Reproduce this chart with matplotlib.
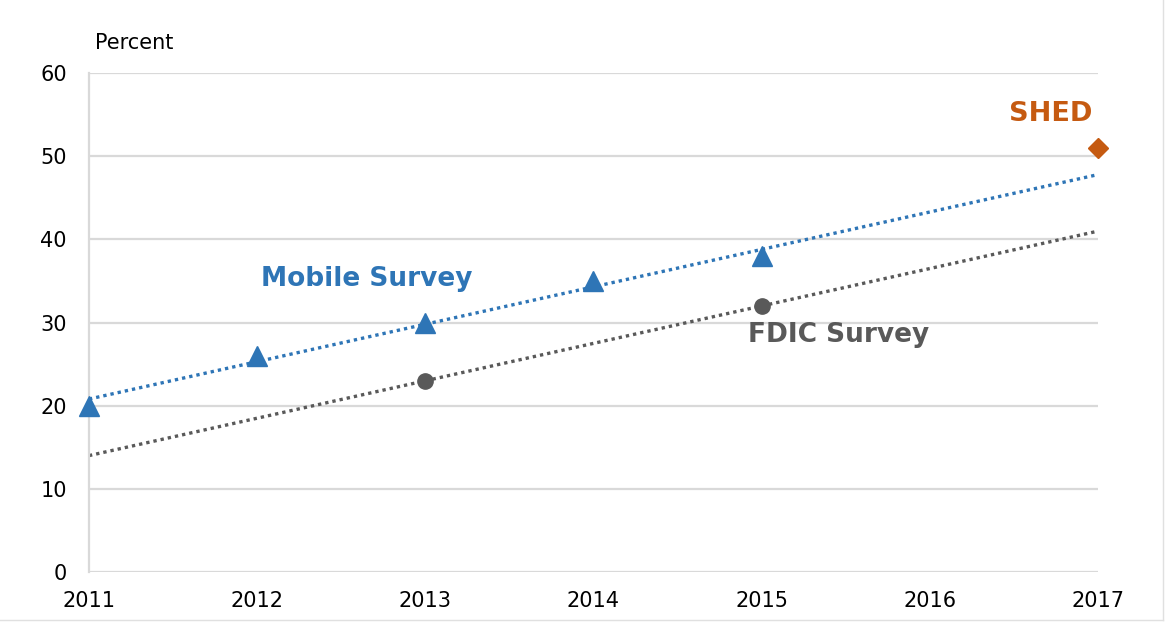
import numpy as np
import matplotlib.pyplot as plt
from matplotlib.lines import Line2D

# Data ------------------------------------------------------------
mobile_years = [2011, 2012, 2013, 2014, 2015]
mobile_vals = [20, 26, 30, 35, 38]
fdic_years = [2013, 2015]
fdic_vals = [23, 32]
shed_years = [2017]
shed_vals = [51]
xticks = [2011, 2012, 2013, 2014, 2015, 2016, 2017]
yticks = [0, 10, 20, 30, 40, 50, 60]

blue = '#2E75B6'
gray = '#595959'
orange = '#C55A11'
grid_c = '#D9D9D9'

fig = plt.figure(figsize=(11.66, 6.36), dpi=100)
ax = fig.add_axes([0.0763, 0.1006, 0.8654, 0.7844])

# Linear trend lines over the full span --------------------------
xs = np.array([2011, 2017])
pm = np.polyfit(mobile_years, mobile_vals, 1)
pf = np.polyfit(fdic_years, fdic_vals, 1)
ax.plot(xs, np.polyval(pm, xs), color=blue, ls=(0, (1, 1.2)), lw=2.4, zorder=2)
ax.plot(xs, np.polyval(pf, xs), color=gray, ls=(0, (1, 1.2)), lw=2.4, zorder=2)

# Points -----------------------------------------------------------
ax.plot(mobile_years, mobile_vals, ls='none', marker='^', ms=14, color=blue,
        clip_on=False, zorder=3)
ax.plot(fdic_years, fdic_vals, ls='none', marker='o', ms=11, color=gray,
        clip_on=False, zorder=3)
ax.plot(shed_years, shed_vals, ls='none', marker='D', ms=10, color=orange,
        clip_on=False, zorder=3)

# Labels ------------------------------------------------------------
ax.text(2012.65, 35.3, 'Mobile Survey', color=blue, fontsize=19, fontweight='bold',
        ha='center', va='center')
ax.text(2015.46, 28.5, 'FDIC Survey', color=gray, fontsize=19, fontweight='bold',
        ha='center', va='center')
ax.text(2016.72, 55.1, 'SHED', color=orange, fontsize=19.5, fontweight='bold',
        ha='center', va='center')
fig.text(95/1166, 1 - 43/636, 'Percent', fontsize=15, ha='left', va='center')

# Axes styling -------------------------------------------------------
ax.set_xlim(2011, 2017)
ax.set_ylim(0, 60)
ax.set_xticks(xticks)
ax.set_yticks(yticks)
ax.set_xticklabels([str(t) for t in xticks], fontsize=15)
ax.set_yticklabels([str(t) for t in yticks], fontsize=15)
ax.tick_params(length=0)
ax.tick_params(axis='x', pad=14)
ax.tick_params(axis='y', pad=16)
ax.yaxis.grid(True, color=grid_c, lw=1.6)
ax.set_axisbelow(True)
for s in ['top', 'right', 'bottom']:
    ax.spines[s].set_visible(False)
ax.spines['left'].set_color(grid_c)
ax.spines['left'].set_linewidth(1.6)

# thin frame of the original screenshot
fig.add_artist(Line2D([1163/1166, 1163/1166], [1 - 620/636, 1], color='#E0E0E0', lw=1))
fig.add_artist(Line2D([0, 1163/1166], [1 - 620/636, 1 - 620/636], color='#E0E0E0', lw=1))

fig.savefig('out.png', dpi=100)
